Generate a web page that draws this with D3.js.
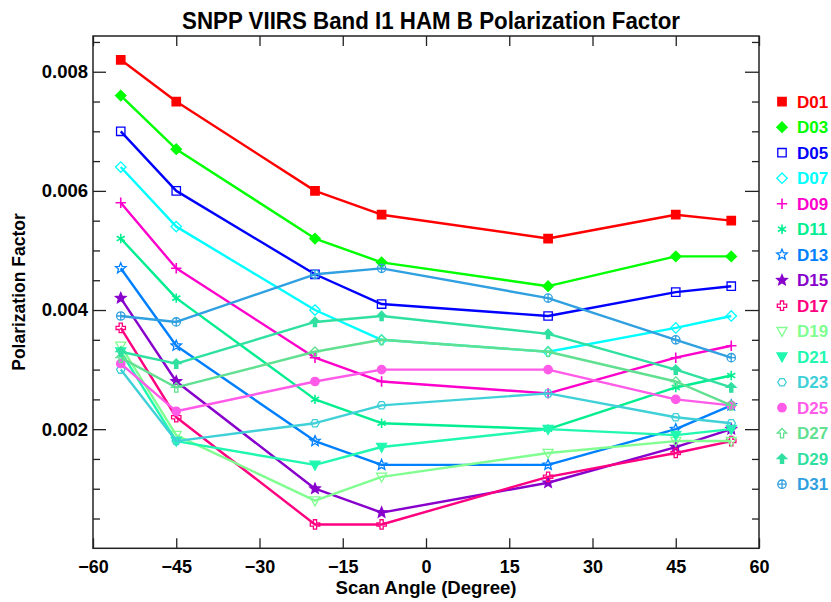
<!DOCTYPE html>
<html>
<head>
<meta charset="utf-8">
<script src="https://cdn.jsdelivr.net/npm/d3@7"></script>
<style>
  html, body { margin: 0; padding: 0; background: #fff; }
  svg { display: block; }
  text { font-family: "Liberation Sans", Arial, Helvetica, sans-serif; font-weight: bold; }
</style>
</head>
<body>
<svg id="chart" width="831" height="602"></svg>
<script>
// ---- data ----
const angles = [-55, -45, -20, -8, 22, 45, 55];
const xTicks = [-60, -45, -30, -15, 0, 15, 30, 45, 60];
const yTicks = [0.002, 0.004, 0.006, 0.008];
const detectors = ["D01","D03","D05","D07","D09","D11","D13","D15","D17","D19","D21","D23","D25","D27","D29","D31"];
const d01 = [0.0082, 0.0075, 0.0060, 0.0056, 0.0052, 0.0056, 0.0055];
const d03 = [0.0076, 0.0067, 0.0052, 0.0048, 0.0044, 0.0049, 0.0049];
const d05 = [0.0070, 0.0060, 0.0046, 0.0041, 0.0039, 0.0043, 0.0044];
const d07 = [0.0064, 0.0054, 0.0040, 0.0035, 0.0033, 0.0037, 0.0039];
const d09 = [0.0058, 0.0047, 0.0032, 0.0028, 0.0026, 0.0032, 0.0034];
const d11 = [0.0052, 0.0042, 0.0025, 0.0021, 0.0020, 0.0027, 0.0029];
const d13 = [0.0047, 0.0034, 0.0018, 0.0014, 0.0014, 0.0020, 0.0024];
const d15 = [0.0042, 0.0028, 0.0010, 0.0006, 0.0011, 0.0017, 0.0020];
const d17 = [0.0037, 0.0022, 0.0004, 0.0004, 0.0012, 0.0016, 0.0018];
const d19 = [0.0034, 0.0019, 0.0008, 0.0012, 0.0016, 0.0018, 0.0018];
const d21 = [0.0033, 0.0018, 0.0014, 0.0017, 0.0020, 0.0019, 0.0020];
const d23 = [0.0030, 0.0018, 0.0021, 0.0024, 0.0026, 0.0022, 0.0021];
const d25 = [0.0031, 0.0023, 0.0028, 0.0030, 0.0030, 0.0025, 0.0024];
const d27 = [0.0032, 0.0027, 0.0033, 0.0035, 0.0033, 0.0028, 0.0024];
const d29 = [0.0033, 0.0031, 0.0038, 0.0039, 0.0036, 0.0030, 0.0027];
const d31 = [0.0039, 0.0038, 0.0046, 0.0047, 0.0042, 0.0035, 0.0032];
const seriesValues = [d01,d03,d05,d07,d09,d11,d13,d15,d17,d19,d21,d23,d25,d27,d29,d31];
const colors = ["#ff0000","#00ff00","#0000ff","#00ffff","#ff00cc","#00ee90","#0080ff","#8800cc",
                "#ff0080","#80ff90","#20f8b0","#40d0d8","#ff5ae8","#60e090","#30e0a0","#30a0e0"];
const symbols = ["square","diamond","squareOpen","diamondOpen","plus","asterisk","starOpen","star",
                 "crossOpen","triDownOpen","triDown","hexOpen","circle","arrowOpen","arrow","circlePlus"];

// ---- layout ----
const svg = d3.select("#chart");
const x = d3.scaleLinear().domain([-60, 60]).range([93, 759]);
const y = d3.scaleLinear().domain([0, 0.0086]).range([548.3, 36]);

// ---- symbol shapes ----
function starPath(R, r) {
  let p = "";
  for (let i = 0; i < 10; i++) {
    const a = -Math.PI / 2 + i * Math.PI / 5;
    const rad = i % 2 === 0 ? R : r;
    p += (i === 0 ? "M" : "L") + (rad * Math.cos(a)).toFixed(2) + "," + (rad * Math.sin(a)).toFixed(2);
  }
  return p + "Z";
}
function symbolInfo(name) {
  const r = 4.2;
  switch (name) {
    case "square": return {d:`M${-r},${-r}h${2*r}v${2*r}h${-2*r}Z`, fill:true};
    case "squareOpen": return {d:`M${-r},${-r}h${2*r}v${2*r}h${-2*r}Z`, fill:false};
    case "diamond": return {d:`M0,${-r-1}L${r+1},0L0,${r+1}L${-r-1},0Z`, fill:true};
    case "diamondOpen": return {d:`M0,${-r-1}L${r+1},0L0,${r+1}L${-r-1},0Z`, fill:false};
    case "plus": return {d:`M${-r-1},0H${r+1}M0,${-r-1}V${r+1}`, fill:false, line:true};
    case "asterisk": {
      const a = r + 0.5, c = a*Math.cos(Math.PI/6), s = a*Math.sin(Math.PI/6);
      return {d:`M0,${-a}V${a}M${-c},${-s}L${c},${s}M${-c},${s}L${c},${-s}`, fill:false, line:true};
    }
    case "star": return {d: starPath(r+1.3, (r+1.3)*0.45), fill:true};
    case "starOpen": return {d: starPath(r+1.3, (r+1.3)*0.45), fill:false};
    case "crossOpen": {
      const a = r + 0.5, w = 1.6;
      return {d:`M${-w},${-a}H${w}V${-w}H${a}V${w}H${w}V${a}H${-w}V${w}H${-a}V${-w}H${-w}Z`, fill:false};
    }
    case "triDownOpen": return {d:`M${-r-0.8},${-r+0.5}H${r+0.8}L0,${r+1}Z`, fill:false};
    case "triDown": return {d:`M${-r-0.8},${-r+0.5}H${r+0.8}L0,${r+1}Z`, fill:true};
    case "hexOpen": {
      let p = "";
      for (let i = 0; i < 6; i++) {
        const a = i * Math.PI / 3;
        p += (i ? "L" : "M") + ((r) * Math.cos(a)).toFixed(2) + "," + ((r) * Math.sin(a)).toFixed(2);
      }
      return {d: p + "Z", fill:false};
    }
    case "circle": return {d:`M${r},0A${r},${r} 0 1,1 ${-r},0A${r},${r} 0 1,1 ${r},0Z`, fill:true};
    case "arrowOpen": {
      const a = r + 0.5, w = 1.6;
      return {d:`M0,${-a}L${a},0H${w}V${a}H${-w}V0H${-a}Z`, fill:false};
    }
    case "arrow": {
      const a = r + 0.5, w = 1.6;
      return {d:`M0,${-a}L${a},0H${w}V${a}H${-w}V0H${-a}Z`, fill:true};
    }
    case "circlePlus": return {d:`M${r},0A${r},${r} 0 1,1 ${-r},0A${r},${r} 0 1,1 ${r},0ZM${-r},0H${r}M0,${-r}V${r}`, fill:false};
  }
}
function drawSymbol(g, name, color) {
  const s = symbolInfo(name);
  g.append("path").attr("d", s.d)
    .attr("fill", s.fill ? color : "none")
    .attr("stroke", color)
    .attr("stroke-width", s.line ? 1.6 : 1.3)
    .attr("stroke-linejoin", "miter");
}

// ---- axes ----
const axisColor = "#222";
const minorTicks = d3.range(0, 0.0086, 0.0005).filter(v => yTicks.every(t => Math.abs(t - v) > 1e-9) && v > 1e-9);

function styleAxis(g) {
  g.selectAll(".domain").remove();
  g.selectAll(".tick line").attr("stroke", axisColor).attr("stroke-width", 1.3);
  g.selectAll("text").attr("fill", "#000").style("font-family", "'Liberation Sans', Arial, sans-serif")
    .style("font-weight", "bold");
}

svg.append("g").attr("transform", "translate(0,548.3)")
  .call(d3.axisBottom(x).tickValues(xTicks).tickSize(-10).tickSizeOuter(0).tickPadding(12).tickFormat(d3.format("d")))
  .call(styleAxis).call(g => g.selectAll("text").attr("font-size", 18));
svg.append("g").attr("transform", "translate(0,36)")
  .call(d3.axisTop(x).tickValues(xTicks).tickSize(-10).tickSizeOuter(0).tickFormat(""))
  .call(styleAxis);
svg.append("g").attr("transform", "translate(93,0)")
  .call(d3.axisLeft(y).tickValues(yTicks).tickSize(-13).tickSizeOuter(0).tickPadding(5).tickFormat(d3.format(".3f")))
  .call(styleAxis).call(g => g.selectAll("text").attr("font-size", 18.5));
svg.append("g").attr("transform", "translate(93,0)")
  .call(d3.axisLeft(y).tickValues(minorTicks).tickSize(-7).tickSizeOuter(0).tickFormat(""))
  .call(styleAxis);
svg.append("g").attr("transform", "translate(759,0)")
  .call(d3.axisRight(y).tickValues(yTicks).tickSize(-14).tickSizeOuter(0).tickFormat(""))
  .call(styleAxis);
svg.append("g").attr("transform", "translate(759,0)")
  .call(d3.axisRight(y).tickValues(minorTicks).tickSize(-7).tickSizeOuter(0).tickFormat(""))
  .call(styleAxis);

svg.append("rect").attr("x", x(-60)).attr("y", y(0.0086))
  .attr("width", x(60) - x(-60)).attr("height", y(0) - y(0.0086))
  .attr("fill", "none").attr("stroke", axisColor).attr("stroke-width", 1.5);

// ---- lines and markers ----
const line = d3.line().x((d, i) => x(angles[i])).y(d => y(d));
const plot = svg.append("g");
seriesValues.forEach((vals, k) => {
  plot.append("path").datum(vals).attr("d", line)
    .attr("fill", "none").attr("stroke", colors[k]).attr("stroke-width", 2.4)
    .attr("stroke-linejoin", "round");
  vals.forEach((v, i) => {
    const g = plot.append("g").attr("transform", `translate(${x(angles[i])},${y(v)})`);
    drawSymbol(g, symbols[k], colors[k]);
  });
});

// ---- legend ----
const legend = svg.append("g");
detectors.forEach((name, k) => {
  const ly = 101.7 + k * 25.5;
  const g = legend.append("g").attr("transform", `translate(782,${ly})`);
  drawSymbol(g, symbols[k], colors[k]);
  legend.append("text").attr("x", 797).attr("y", ly).attr("dy", "0.36em")
    .attr("font-size", 17).attr("fill", colors[k]).text(name);
});

// ---- titles ----
svg.append("text").attr("x", 431).attr("y", 29).attr("text-anchor", "middle")
  .attr("font-size", 23).attr("textLength", 498).attr("lengthAdjust", "spacingAndGlyphs")
  .text("SNPP VIIRS Band I1 HAM B Polarization Factor");
svg.append("text").attr("x", 426).attr("y", 594).attr("text-anchor", "middle")
  .attr("font-size", 18).attr("textLength", 181).attr("lengthAdjust", "spacingAndGlyphs")
  .text("Scan Angle (Degree)");
svg.append("text").attr("transform", "translate(25,292) rotate(-90)").attr("text-anchor", "middle")
  .attr("font-size", 17.5).text("Polarization Factor");
</script>
</body>
</html>
